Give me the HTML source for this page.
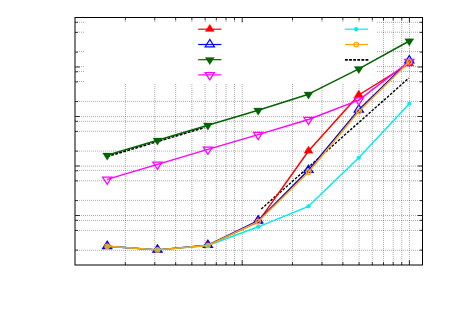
<!DOCTYPE html>
<html><head><meta charset="utf-8"><title>chart</title>
<style>
html,body{margin:0;padding:0;background:#fff;font-family:"Liberation Sans",sans-serif;}
svg{display:block;}
</style></head>
<body>
<svg width="450" height="314" viewBox="0 0 450 314">
<rect width="450" height="314" fill="#fff"/>
<g stroke="#000" stroke-opacity="0.32" stroke-width="1" stroke-dasharray="1 1" fill="none">
<line x1="242.20" y1="18.00" x2="242.20" y2="265.00"/>
<line x1="409.40" y1="18.00" x2="409.40" y2="265.00"/>
<line x1="125.33" y1="18.00" x2="125.33" y2="265.00"/>
<line x1="154.77" y1="18.00" x2="154.77" y2="265.00"/>
<line x1="175.66" y1="18.00" x2="175.66" y2="265.00"/>
<line x1="191.87" y1="18.00" x2="191.87" y2="265.00"/>
<line x1="205.11" y1="18.00" x2="205.11" y2="265.00"/>
<line x1="216.30" y1="18.00" x2="216.30" y2="265.00"/>
<line x1="226.00" y1="18.00" x2="226.00" y2="265.00"/>
<line x1="234.55" y1="18.00" x2="234.55" y2="265.00"/>
<line x1="292.53" y1="18.00" x2="292.53" y2="265.00"/>
<line x1="321.97" y1="18.00" x2="321.97" y2="265.00"/>
<line x1="342.86" y1="18.00" x2="342.86" y2="265.00"/>
<line x1="359.07" y1="18.00" x2="359.07" y2="265.00"/>
<line x1="372.31" y1="18.00" x2="372.31" y2="265.00"/>
<line x1="383.50" y1="18.00" x2="383.50" y2="265.00"/>
<line x1="393.20" y1="18.00" x2="393.20" y2="265.00"/>
<line x1="401.75" y1="18.00" x2="401.75" y2="265.00"/>
<line x1="77.00" y1="22.30" x2="422.50" y2="22.30"/>
<line x1="77.00" y1="32.20" x2="422.50" y2="32.20"/>
<line x1="77.00" y1="51.60" x2="422.50" y2="51.60"/>
<line x1="77.00" y1="66.60" x2="422.50" y2="66.60"/>
<line x1="77.00" y1="71.50" x2="422.50" y2="71.50"/>
<line x1="77.00" y1="81.40" x2="422.50" y2="81.40"/>
<line x1="77.00" y1="101.40" x2="422.50" y2="101.40"/>
<line x1="77.00" y1="116.60" x2="422.50" y2="116.60"/>
<line x1="77.00" y1="121.30" x2="422.50" y2="121.30"/>
<line x1="77.00" y1="131.30" x2="422.50" y2="131.30"/>
<line x1="77.00" y1="151.10" x2="422.50" y2="151.10"/>
<line x1="77.00" y1="166.10" x2="422.50" y2="166.10"/>
<line x1="77.00" y1="170.40" x2="422.50" y2="170.40"/>
<line x1="77.00" y1="180.80" x2="422.50" y2="180.80"/>
<line x1="77.00" y1="200.40" x2="422.50" y2="200.40"/>
<line x1="77.00" y1="215.50" x2="422.50" y2="215.50"/>
<line x1="77.00" y1="220.50" x2="422.50" y2="220.50"/>
<line x1="77.00" y1="230.40" x2="422.50" y2="230.40"/>
<line x1="77.00" y1="250.30" x2="422.50" y2="250.30"/>
</g>
<rect x="84" y="18" width="292.5" height="65" fill="#fff"/>
<g stroke="#000" stroke-width="0.8" fill="none">
<line x1="242.20" y1="265.00" x2="242.20" y2="260.20"/>
<line x1="242.20" y1="17.50" x2="242.20" y2="22.30"/>
<line x1="409.40" y1="265.00" x2="409.40" y2="260.20"/>
<line x1="409.40" y1="17.50" x2="409.40" y2="22.30"/>
<line x1="125.33" y1="265.00" x2="125.33" y2="262.10"/>
<line x1="125.33" y1="17.50" x2="125.33" y2="20.40"/>
<line x1="154.77" y1="265.00" x2="154.77" y2="262.10"/>
<line x1="154.77" y1="17.50" x2="154.77" y2="20.40"/>
<line x1="175.66" y1="265.00" x2="175.66" y2="262.10"/>
<line x1="175.66" y1="17.50" x2="175.66" y2="20.40"/>
<line x1="191.87" y1="265.00" x2="191.87" y2="262.10"/>
<line x1="191.87" y1="17.50" x2="191.87" y2="20.40"/>
<line x1="205.11" y1="265.00" x2="205.11" y2="262.10"/>
<line x1="205.11" y1="17.50" x2="205.11" y2="20.40"/>
<line x1="216.30" y1="265.00" x2="216.30" y2="262.10"/>
<line x1="216.30" y1="17.50" x2="216.30" y2="20.40"/>
<line x1="226.00" y1="265.00" x2="226.00" y2="262.10"/>
<line x1="226.00" y1="17.50" x2="226.00" y2="20.40"/>
<line x1="234.55" y1="265.00" x2="234.55" y2="262.10"/>
<line x1="234.55" y1="17.50" x2="234.55" y2="20.40"/>
<line x1="292.53" y1="265.00" x2="292.53" y2="262.10"/>
<line x1="292.53" y1="17.50" x2="292.53" y2="20.40"/>
<line x1="321.97" y1="265.00" x2="321.97" y2="262.10"/>
<line x1="321.97" y1="17.50" x2="321.97" y2="20.40"/>
<line x1="342.86" y1="265.00" x2="342.86" y2="262.10"/>
<line x1="342.86" y1="17.50" x2="342.86" y2="20.40"/>
<line x1="359.07" y1="265.00" x2="359.07" y2="262.10"/>
<line x1="359.07" y1="17.50" x2="359.07" y2="20.40"/>
<line x1="372.31" y1="265.00" x2="372.31" y2="262.10"/>
<line x1="372.31" y1="17.50" x2="372.31" y2="20.40"/>
<line x1="383.50" y1="265.00" x2="383.50" y2="262.10"/>
<line x1="383.50" y1="17.50" x2="383.50" y2="20.40"/>
<line x1="393.20" y1="265.00" x2="393.20" y2="262.10"/>
<line x1="393.20" y1="17.50" x2="393.20" y2="20.40"/>
<line x1="401.75" y1="265.00" x2="401.75" y2="262.10"/>
<line x1="401.75" y1="17.50" x2="401.75" y2="20.40"/>
<line x1="75.00" y1="215.50" x2="79.80" y2="215.50"/>
<line x1="422.50" y1="215.50" x2="417.70" y2="215.50"/>
<line x1="75.00" y1="166.00" x2="79.80" y2="166.00"/>
<line x1="422.50" y1="166.00" x2="417.70" y2="166.00"/>
<line x1="75.00" y1="116.50" x2="79.80" y2="116.50"/>
<line x1="422.50" y1="116.50" x2="417.70" y2="116.50"/>
<line x1="75.00" y1="67.00" x2="79.80" y2="67.00"/>
<line x1="422.50" y1="67.00" x2="417.70" y2="67.00"/>
<line x1="75.00" y1="250.10" x2="77.90" y2="250.10"/>
<line x1="422.50" y1="250.10" x2="419.60" y2="250.10"/>
<line x1="75.00" y1="230.40" x2="77.90" y2="230.40"/>
<line x1="422.50" y1="230.40" x2="419.60" y2="230.40"/>
<line x1="75.00" y1="220.30" x2="77.90" y2="220.30"/>
<line x1="422.50" y1="220.30" x2="419.60" y2="220.30"/>
<line x1="75.00" y1="200.60" x2="77.90" y2="200.60"/>
<line x1="422.50" y1="200.60" x2="419.60" y2="200.60"/>
<line x1="75.00" y1="180.90" x2="77.90" y2="180.90"/>
<line x1="422.50" y1="180.90" x2="419.60" y2="180.90"/>
<line x1="75.00" y1="170.80" x2="77.90" y2="170.80"/>
<line x1="422.50" y1="170.80" x2="419.60" y2="170.80"/>
<line x1="75.00" y1="151.10" x2="77.90" y2="151.10"/>
<line x1="422.50" y1="151.10" x2="419.60" y2="151.10"/>
<line x1="75.00" y1="131.40" x2="77.90" y2="131.40"/>
<line x1="422.50" y1="131.40" x2="419.60" y2="131.40"/>
<line x1="75.00" y1="121.30" x2="77.90" y2="121.30"/>
<line x1="422.50" y1="121.30" x2="419.60" y2="121.30"/>
<line x1="75.00" y1="101.60" x2="77.90" y2="101.60"/>
<line x1="422.50" y1="101.60" x2="419.60" y2="101.60"/>
<line x1="75.00" y1="81.90" x2="77.90" y2="81.90"/>
<line x1="422.50" y1="81.90" x2="419.60" y2="81.90"/>
<line x1="75.00" y1="71.80" x2="77.90" y2="71.80"/>
<line x1="422.50" y1="71.80" x2="419.60" y2="71.80"/>
<line x1="75.00" y1="52.10" x2="77.90" y2="52.10"/>
<line x1="422.50" y1="52.10" x2="419.60" y2="52.10"/>
<line x1="75.00" y1="32.40" x2="77.90" y2="32.40"/>
<line x1="422.50" y1="32.40" x2="419.60" y2="32.40"/>
<line x1="75.00" y1="22.30" x2="77.90" y2="22.30"/>
<line x1="422.50" y1="22.30" x2="419.60" y2="22.30"/>
</g>
<g stroke="#000" stroke-opacity="0.32" stroke-width="1" stroke-dasharray="1 1" fill="none">
<line x1="242.20" y1="21" x2="242.20" y2="22"/>
<line x1="125.33" y1="21" x2="125.33" y2="22"/>
<line x1="154.77" y1="21" x2="154.77" y2="22"/>
<line x1="175.66" y1="21" x2="175.66" y2="22"/>
<line x1="191.87" y1="21" x2="191.87" y2="22"/>
<line x1="205.11" y1="21" x2="205.11" y2="22"/>
<line x1="216.30" y1="21" x2="216.30" y2="22"/>
<line x1="226.00" y1="21" x2="226.00" y2="22"/>
<line x1="234.55" y1="21" x2="234.55" y2="22"/>
<line x1="292.53" y1="21" x2="292.53" y2="22"/>
<line x1="321.97" y1="21" x2="321.97" y2="22"/>
<line x1="342.86" y1="21" x2="342.86" y2="22"/>
<line x1="359.07" y1="21" x2="359.07" y2="22"/>
<line x1="372.31" y1="21" x2="372.31" y2="22"/>
</g>
<line x1="107.2" y1="156.5" x2="204.5" y2="127.5" stroke="#000" stroke-width="1.7" stroke-dasharray="2.9 1.3" fill="none"/>
<line x1="261.3" y1="209.0" x2="408.8" y2="78.1" stroke="#000" stroke-width="1.4" stroke-dasharray="2.6 1.5" fill="none"/>
<polyline points="107.20,246.30 157.50,249.90 207.90,245.30 258.20,221.80 308.50,151.00 358.80,95.00 409.30,63.70" fill="none" stroke="#ff0000" stroke-width="1.45" stroke-linejoin="round"/>
<polygon points="107.20,241.26 102.60,248.55 111.80,248.55" fill="#ff0000" stroke="#ff0000" stroke-width="0.25"/>
<polygon points="157.50,244.86 152.90,252.15 162.10,252.15" fill="#ff0000" stroke="#ff0000" stroke-width="0.25"/>
<polygon points="207.90,240.26 203.30,247.55 212.50,247.55" fill="#ff0000" stroke="#ff0000" stroke-width="0.25"/>
<polygon points="258.20,216.76 253.60,224.05 262.80,224.05" fill="#ff0000" stroke="#ff0000" stroke-width="0.25"/>
<polygon points="308.50,145.96 303.90,153.25 313.10,153.25" fill="#ff0000" stroke="#ff0000" stroke-width="0.25"/>
<polygon points="358.80,89.96 354.20,97.25 363.40,97.25" fill="#ff0000" stroke="#ff0000" stroke-width="0.25"/>
<polygon points="409.30,58.66 404.70,65.95 413.90,65.95" fill="#ff0000" stroke="#ff0000" stroke-width="0.25"/>
<polyline points="107.20,246.30 157.50,249.90 207.90,245.10 258.20,220.70 308.50,170.10 358.80,109.80 409.30,60.70" fill="none" stroke="#0000ff" stroke-width="1.45" stroke-linejoin="round"/>
<polygon points="107.20,241.26 102.60,248.55 111.80,248.55" fill="none" stroke="#0000ff" stroke-width="1.25"/>
<circle cx="107.20" cy="246.30" r="0.5" fill="#0000ff"/>
<polygon points="157.50,244.86 152.90,252.15 162.10,252.15" fill="none" stroke="#0000ff" stroke-width="1.25"/>
<circle cx="157.50" cy="249.90" r="0.5" fill="#0000ff"/>
<polygon points="207.90,240.06 203.30,247.35 212.50,247.35" fill="none" stroke="#0000ff" stroke-width="1.25"/>
<circle cx="207.90" cy="245.10" r="0.5" fill="#0000ff"/>
<polygon points="258.20,215.66 253.60,222.95 262.80,222.95" fill="none" stroke="#0000ff" stroke-width="1.25"/>
<circle cx="258.20" cy="220.70" r="0.5" fill="#0000ff"/>
<polygon points="308.50,165.06 303.90,172.35 313.10,172.35" fill="none" stroke="#0000ff" stroke-width="1.25"/>
<circle cx="308.50" cy="170.10" r="0.5" fill="#0000ff"/>
<polygon points="358.80,104.76 354.20,112.05 363.40,112.05" fill="none" stroke="#0000ff" stroke-width="1.25"/>
<circle cx="358.80" cy="109.80" r="0.5" fill="#0000ff"/>
<polygon points="409.30,55.66 404.70,62.95 413.90,62.95" fill="none" stroke="#0000ff" stroke-width="1.25"/>
<circle cx="409.30" cy="60.70" r="0.5" fill="#0000ff"/>
<polyline points="107.20,155.30 157.50,140.20 207.90,125.30 258.20,110.30 308.50,94.20 358.80,68.80 409.30,41.00" fill="none" stroke="#006400" stroke-width="1.45" stroke-linejoin="round"/>
<polygon points="107.20,160.34 102.60,153.05 111.80,153.05" fill="#006400" stroke="#006400" stroke-width="0.25"/>
<polygon points="157.50,145.24 152.90,137.95 162.10,137.95" fill="#006400" stroke="#006400" stroke-width="0.25"/>
<polygon points="207.90,130.34 203.30,123.05 212.50,123.05" fill="#006400" stroke="#006400" stroke-width="0.25"/>
<polygon points="258.20,115.34 253.60,108.05 262.80,108.05" fill="#006400" stroke="#006400" stroke-width="0.25"/>
<polygon points="308.50,99.24 303.90,91.95 313.10,91.95" fill="#006400" stroke="#006400" stroke-width="0.25"/>
<polygon points="358.80,73.84 354.20,66.55 363.40,66.55" fill="#006400" stroke="#006400" stroke-width="0.25"/>
<polygon points="409.30,46.04 404.70,38.75 413.90,38.75" fill="#006400" stroke="#006400" stroke-width="0.25"/>
<polyline points="107.20,179.40 157.50,164.40 207.90,149.40 258.20,134.60 308.50,119.50 358.80,100.10 409.30,61.50" fill="none" stroke="#ff00ff" stroke-width="1.45" stroke-linejoin="round"/>
<polygon points="107.20,184.44 102.60,177.15 111.80,177.15" fill="none" stroke="#ff00ff" stroke-width="1.25"/>
<circle cx="107.20" cy="179.40" r="0.5" fill="#ff00ff"/>
<polygon points="157.50,169.44 152.90,162.15 162.10,162.15" fill="none" stroke="#ff00ff" stroke-width="1.25"/>
<circle cx="157.50" cy="164.40" r="0.5" fill="#ff00ff"/>
<polygon points="207.90,154.44 203.30,147.15 212.50,147.15" fill="none" stroke="#ff00ff" stroke-width="1.25"/>
<circle cx="207.90" cy="149.40" r="0.5" fill="#ff00ff"/>
<polygon points="258.20,139.64 253.60,132.35 262.80,132.35" fill="none" stroke="#ff00ff" stroke-width="1.25"/>
<circle cx="258.20" cy="134.60" r="0.5" fill="#ff00ff"/>
<polygon points="308.50,124.54 303.90,117.25 313.10,117.25" fill="none" stroke="#ff00ff" stroke-width="1.25"/>
<circle cx="308.50" cy="119.50" r="0.5" fill="#ff00ff"/>
<polygon points="358.80,105.14 354.20,97.85 363.40,97.85" fill="none" stroke="#ff00ff" stroke-width="1.25"/>
<circle cx="358.80" cy="100.10" r="0.5" fill="#ff00ff"/>
<polygon points="409.30,66.54 404.70,59.25 413.90,59.25" fill="none" stroke="#ff00ff" stroke-width="1.25"/>
<circle cx="409.30" cy="61.50" r="0.5" fill="#ff00ff"/>
<polyline points="107.20,246.30 157.50,249.90 207.90,245.50 258.20,226.80 308.50,206.30 358.80,157.80 409.30,103.70" fill="none" stroke="#00eeee" stroke-width="1.45" stroke-linejoin="round"/>
<circle cx="107.20" cy="246.30" r="2.1" fill="#00eeee"/>
<circle cx="157.50" cy="249.90" r="2.1" fill="#00eeee"/>
<circle cx="207.90" cy="245.50" r="2.1" fill="#00eeee"/>
<circle cx="258.20" cy="226.80" r="2.1" fill="#00eeee"/>
<circle cx="308.50" cy="206.30" r="2.1" fill="#00eeee"/>
<circle cx="358.80" cy="157.80" r="2.1" fill="#00eeee"/>
<circle cx="409.30" cy="103.70" r="2.1" fill="#00eeee"/>
<polyline points="107.20,246.30 157.50,249.90 207.90,245.50 258.20,221.60 308.50,172.20 358.80,111.50 409.30,61.80" fill="none" stroke="#ffa500" stroke-width="1.45" stroke-linejoin="round"/>
<circle cx="107.20" cy="246.30" r="2.25" fill="none" stroke="#ffa500" stroke-width="1.2"/>
<circle cx="107.20" cy="246.30" r="0.5" fill="#ffa500"/>
<circle cx="157.50" cy="249.90" r="2.25" fill="none" stroke="#ffa500" stroke-width="1.2"/>
<circle cx="157.50" cy="249.90" r="0.5" fill="#ffa500"/>
<circle cx="207.90" cy="245.50" r="2.25" fill="none" stroke="#ffa500" stroke-width="1.2"/>
<circle cx="207.90" cy="245.50" r="0.5" fill="#ffa500"/>
<circle cx="258.20" cy="221.60" r="2.25" fill="none" stroke="#ffa500" stroke-width="1.2"/>
<circle cx="258.20" cy="221.60" r="0.5" fill="#ffa500"/>
<circle cx="308.50" cy="172.20" r="2.25" fill="none" stroke="#ffa500" stroke-width="1.2"/>
<circle cx="308.50" cy="172.20" r="0.5" fill="#ffa500"/>
<circle cx="358.80" cy="111.50" r="2.25" fill="none" stroke="#ffa500" stroke-width="1.2"/>
<circle cx="358.80" cy="111.50" r="0.5" fill="#ffa500"/>
<circle cx="409.30" cy="61.80" r="2.25" fill="none" stroke="#ffa500" stroke-width="1.2"/>
<circle cx="409.30" cy="61.80" r="0.5" fill="#ffa500"/>
<line x1="198.20" y1="29.20" x2="221.40" y2="29.20" stroke="#ff0000" stroke-width="1.2"/>
<polygon points="209.80,24.16 205.20,31.45 214.40,31.45" fill="#ff0000" stroke="#ff0000" stroke-width="0.25"/>
<line x1="198.20" y1="44.50" x2="221.40" y2="44.50" stroke="#0000ff" stroke-width="1.2"/>
<polygon points="209.80,39.46 205.20,46.75 214.40,46.75" fill="none" stroke="#0000ff" stroke-width="1.25"/>
<circle cx="209.80" cy="44.50" r="0.5" fill="#0000ff"/>
<line x1="198.20" y1="59.70" x2="221.40" y2="59.70" stroke="#006400" stroke-width="1.2"/>
<polygon points="209.80,64.74 205.20,57.45 214.40,57.45" fill="#006400" stroke="#006400" stroke-width="0.25"/>
<line x1="198.20" y1="74.90" x2="221.40" y2="74.90" stroke="#ff00ff" stroke-width="1.2"/>
<polygon points="209.80,79.94 205.20,72.65 214.40,72.65" fill="none" stroke="#ff00ff" stroke-width="1.25"/>
<circle cx="209.80" cy="74.90" r="0.5" fill="#ff00ff"/>
<line x1="345.00" y1="29.20" x2="368.00" y2="29.20" stroke="#00eeee" stroke-width="1.2"/>
<circle cx="356.20" cy="29.20" r="2.1" fill="#00eeee"/>
<line x1="345.00" y1="44.50" x2="368.00" y2="44.50" stroke="#ffa500" stroke-width="1.2"/>
<circle cx="356.20" cy="44.50" r="2.25" fill="none" stroke="#ffa500" stroke-width="1.2"/>
<circle cx="356.20" cy="44.50" r="0.5" fill="#ffa500"/>
<line x1="345.00" y1="59.80" x2="368.30" y2="59.80" stroke="#000" stroke-width="1.7" stroke-dasharray="2.8 1.3" fill="none"/>
<rect x="75.00" y="17.50" width="347.50" height="247.50" fill="none" stroke="#000" stroke-width="1"/>
</svg>
</body></html>
